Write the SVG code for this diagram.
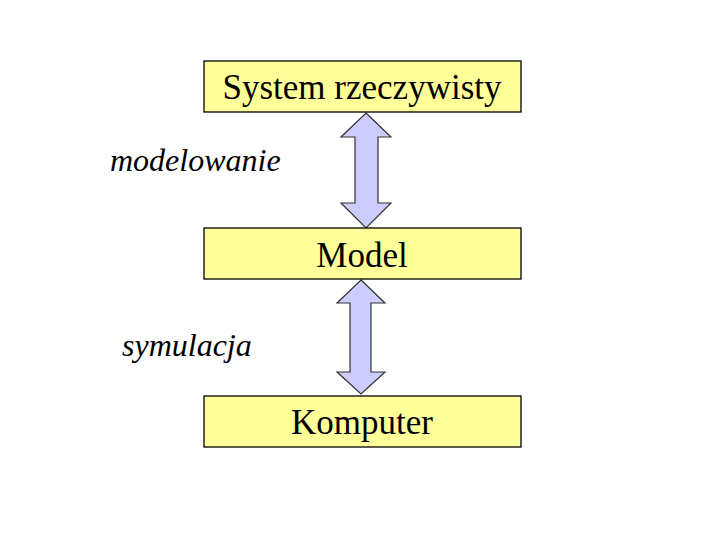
<svg xmlns="http://www.w3.org/2000/svg" width="720" height="540" viewBox="0 0 720 540">
<style>
.box{fill:#FFFF99;stroke:#000;stroke-width:1.3}
.lbl{font-family:"Liberation Serif","Times New Roman",serif;font-size:35px;fill:#000;text-anchor:middle}
.it{font-family:"Liberation Serif","Times New Roman",serif;font-size:32px;font-style:italic;fill:#000}
.arr{fill:#CCCCFF;stroke:#333;stroke-width:1.2;stroke-linejoin:miter}
</style>
<rect width="720" height="540" fill="#fff"/>
<g id="connectors">
<polygon class="arr" points="366,113 391,137 378,137 378,203 391,203 366,228 341,203 355,203 355,137 341,137"/>
<polygon class="arr" points="361,280 385,303 371,303 371,372 385,372 361,394 337,372 350,372 350,303 337,303"/>
</g>
<g id="system">
<rect class="box" x="204" y="61" width="317" height="51"/>
<text class="lbl" x="362" y="99">System rzeczywisty</text>
</g>
<g id="model">
<rect class="box" x="204" y="228" width="317" height="51"/>
<text class="lbl" x="362" y="267">Model</text>
</g>
<g id="komputer">
<rect class="box" x="204" y="396" width="317" height="51"/>
<text class="lbl" x="362" y="434">Komputer</text>
</g>
<g id="labels">
<text class="it" x="110" y="171">modelowanie</text>
<text class="it" x="122" y="356">symulacja</text>
</g>
</svg>
